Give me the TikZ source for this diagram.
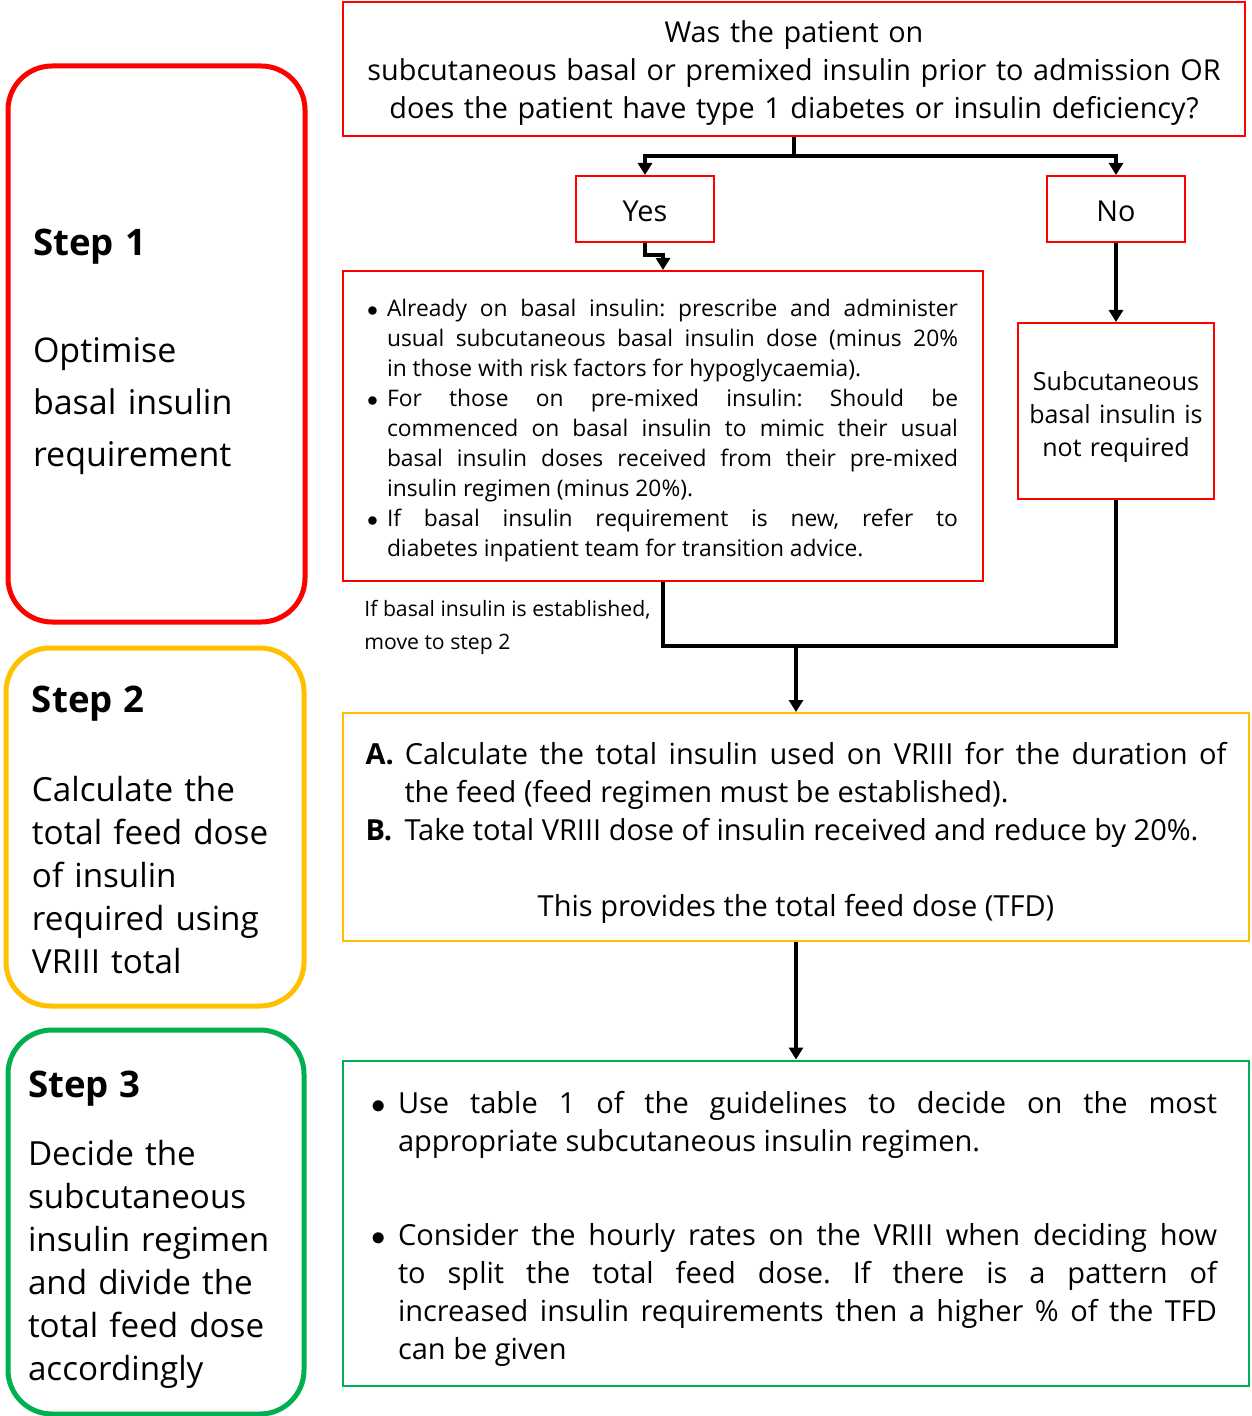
\documentclass[tikz,border=0pt]{standalone}
\usepackage{fontspec}
\setmainfont{Open Sans}
\usepackage{enumitem}
\usetikzlibrary{arrows.meta, positioning, calc}
\frenchspacing

\definecolor{stepred}{RGB}{255,0,0}
\definecolor{stepyellow}{RGB}{255,192,0}
\definecolor{stepgreen}{RGB}{0,176,80}

\tikzset{
  box/.style={draw=#1, line width=1pt, inner sep=0pt},
  stepbox/.style={draw=#1, line width=2.5pt, rounded corners=22pt, inner sep=0pt, align=left},
  flow/.style={line width=2pt, -{Triangle[length=6pt, width=7pt]}},
  link/.style={line width=2pt},
}
\newcommand{\stephead}[1]{{\fontsize{18.3}{26}\selectfont\bfseries #1}}
% extra room above the first line / below the last line of a node
\newcommand{\padtop}[2]{\raisebox{0pt}[\dimexpr\height+#1\relax][\depth]{#2}}
\newcommand{\padbot}[2]{\raisebox{0pt}[\height][\dimexpr\depth+#1\relax]{#2}}

\begin{document}
\begin{tikzpicture}[x=0.5pt, y=-0.5pt]
    \useasboundingbox (0,0) rectangle (1251,1416);

    % Steps
    \node[stepbox=stepred, minimum width=148.5pt, minimum height=278pt, text width=123.5pt,
          font=\fontsize{17}{26}\selectfont] (step1) at (156.5,344)
        {\padtop{8pt}{\stephead{Step 1}}\\[27.5pt] Optimise\\ basal insulin\\ requirement};
    \node[stepbox=stepyellow, minimum width=149pt, minimum height=179pt, text width=123pt,
          font=\fontsize{16.6}{21.5}\selectfont] (step2) at (155,827)
        {\padtop{3pt}{\stephead{Step 2}}\\[23pt] Calculate the\\ total feed dose\\ of insulin\\ required using\\ VRIII total};
    \node[stepbox=stepgreen, minimum width=148pt, minimum height=192pt, text width=128pt,
          font=\fontsize{16.6}{21.5}\selectfont] (step3) at (156,1222)
        {\padtop{8pt}{\stephead{Step 3}}\\[12.5pt] Decide the\\ subcutaneous\\ insulin regimen\\ and divide the\\ total feed dose\\ accordingly};

    % Question
    \node[box=stepred, minimum width=451pt, minimum height=67pt, text width=445pt, align=center,
          font=\fontsize{14.4}{19}\selectfont] (question) at (794,69)
        {\padtop{4pt}{Was the patient on}\\ subcutaneous basal or premixed insulin prior to admission OR\\ does the patient have type 1 diabetes or insulin deficiency?};

    % Answers
    \node[box=stepred, minimum width=69pt, minimum height=33pt, font=\fontsize{14.4}{16}\selectfont] (yes) at (645,209) {\padtop{2pt}{Yes}};
    \node[box=stepred, minimum width=69pt, minimum height=33pt, font=\fontsize{14.4}{16}\selectfont] (no) at (1116,209) {\padtop{2pt}{No}};

    % Basal insulin advice
    \node[box=stepred, minimum width=320pt, minimum height=155pt, text width=295pt, align=justify,
          font=\fontsize{11.4}{15}\selectfont] (basal) at (663,426)
        {\begin{itemize}[nosep, leftmargin=9.5pt, labelsep=4.5pt, label=$\bullet$]
          \item Already on basal insulin: prescribe and administer \linebreak usual subcutaneous basal insulin dose (minus 20\% \linebreak in those with risk factors for hypoglycaemia).
          \item For those on pre-mixed insulin: Should be \linebreak commenced on basal insulin to mimic their usual \linebreak basal insulin doses received from their pre-mixed \linebreak insulin regimen (minus 20\%).
          \item If basal insulin requirement is new, refer to \linebreak diabetes inpatient team for transition \padbot{4pt}{advice.}
        \end{itemize}};
    \node[box=stepred, minimum width=98pt, minimum height=88pt, text width=94pt, align=center,
          font=\fontsize{12.5}{16.5}\selectfont] (notreq) at (1116,411)
        {\padtop{6pt}{Subcutaneous}\\ basal insulin is\\ not required};
    \node[inner sep=0pt, anchor=west, align=left, font=\fontsize{10.6}{16.5}\selectfont] (note) at (364,627)
        {If basal insulin is established,\\ move to step 2};

    % Total feed dose
    \node[box=stepyellow, minimum width=453pt, minimum height=114pt, text width=430.5pt, align=justify,
          font=\fontsize{14.5}{19}\selectfont] (tfd) at (796,827)
        {\begin{enumerate}[nosep, leftmargin=19.5pt, labelwidth=14pt, labelsep=5.5pt, align=left, label=\textbf{\Alph*.}]
          \item Calculate the total insulin used on VRIII for the duration of \linebreak the feed (feed regimen must be established).
          \item Take total VRIII dose of insulin received and reduce by 20\%.
        \end{enumerate}
        \vskip 19pt
        {\centering \padbot{2.5pt}{This provides the total feed dose (TFD)}\par}};

    % Regimen
    \node[box=stepgreen, minimum width=453pt, minimum height=162.5pt, text width=421pt, align=justify,
          font=\fontsize{14.5}{19}\selectfont] (regimen) at (796,1223)
        {\begin{itemize}[nosep, leftmargin=11.5pt, labelsep=6pt, itemsep=28pt, label=$\bullet$]
          \item Use table 1 of the guidelines to decide on the most \linebreak appropriate subcutaneous insulin regimen.
          \item Consider the hourly rates on the VRIII when deciding how \linebreak to split the total feed dose. If there is a pattern of \linebreak increased insulin requirements then a higher \% of the TFD \linebreak can be \padbot{2pt}{given}
        \end{itemize}};

    % Connectors
    \draw[link] (question.south) -- ++(0,19) coordinate (split);
    \draw[flow] (split) -| (yes.north);
    \draw[flow] (split) -| (no.north);
    \draw[flow] (yes.south) -- ++(0,12) -| (basal.north);
    \draw[flow] (no.south) -- (notreq.north);
    \path (tfd.north) ++(0,-66) coordinate (merge);
    \draw[link] (basal.south) |- (merge) -| (notreq.south);
    \draw[flow] (merge) -- (tfd.north);
    \draw[flow] (tfd.south) -- (regimen.north);
\end{tikzpicture}
\end{document}
